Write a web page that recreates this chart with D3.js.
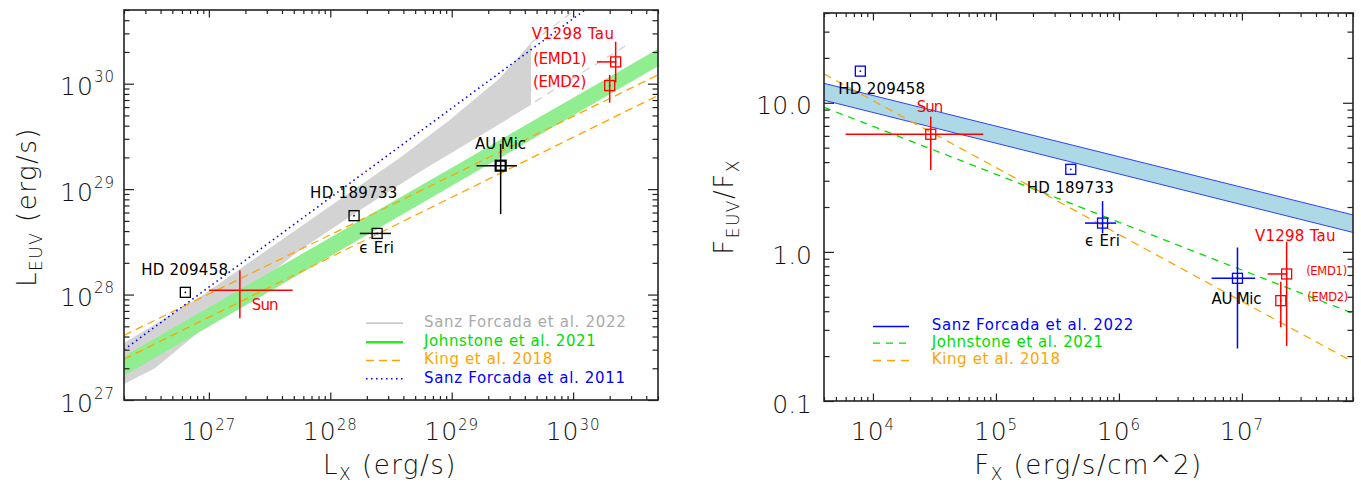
<!DOCTYPE html>
<html>
<head>
<meta charset="utf-8">
<script src="https://cdn.jsdelivr.net/npm/d3@7"></script>
<style>
  body { margin: 0; background: #fff; }
  text { font-family: "DejaVu Sans", sans-serif; }
  text.big { font-weight: 200; }
</style>
</head>
<body>
<div id="chart"></div>
<script>
// ---- values ----
const starNames = ["HD 209458", "Sun", "HD 189733", "\u03f5 Eri", "AU Mic", "(EMD1)", "(EMD2)"];

// left panel: L_EUV against L_X (erg/s)
const lxValues   = [6.4e26, 1.8e27, 1.57e28, 2.43e28, 2.53e29, 2.24e30, 2.0e30];
const leuvValues = [1.05e28, 1.1e28, 5.6e28, 3.8e28, 1.67e29, 1.61e30, 9.6e29];
const lxErr      = [null, [1.0e27, 4.9e27], null, [1.75e28, 3.16e28], [1.6e29, 3.45e29], [1.57e30, 2.24e30], null];
const leuvErr    = [null, [5.96e27, 1.69e28], null, null, [5.8e28, 2.68e29], [1.03e30, 2.5e30], [6.6e29, 1.21e30]];

// right panel: F_EUV/F_X against F_X (erg/s/cm^2)
const fxValues    = [7.9e3, 2.95e4, 4.06e5, 7.36e5, 9.2e6, 2.31e7, 2.07e7];
const ratioValues = [16.3, 6.15, 3.58, 1.56, 0.665, 0.711, 0.471];
const fxErr       = [null, [6.0e3, 7.9e4], null, [5.3e5, 9.5e5], [5.67e6, 1.28e7], [1.62e7, 2.31e7], null];
const ratioErr    = [null, [3.54, 8.07], null, [1.33, 2.19], [0.225, 1.07], [0.234, 1.17], [0.312, 0.63]];

// relations, left panel
const sanz2022UpperL = [[2.0e26, 3.48e27], [8.45e26, 9.5e27], [5.64e27, 4.38e28], [3.75e28, 1.98e29], [9.68e28, 4.54e29], [2.5e29, 1.135e30], [4.5e29, 2.44e30]];
const sanz2022LowerL = [[2.0e26, 1.42e27], [3.6e26, 2.0e27], [2.18e27, 1.11e28], [5.64e27, 2.65e28], [1.76e28, 6.35e28], [5.48e28, 1.46e29], [1.71e29, 3.2e29], [4.5e29, 6.3e29]];
const sanz2022ExtraL = [[[4.5e29, 2.44e30], [1.04e30, 5e30]], [[4.86e29, 6.76e29], [2.94e30, 2.42e30]]];
const johnstoneUpperL = [[2e26, 2.6e27], [5e30, 2.13e30]];
const johnstoneLowerL = [[2e26, 1.7e27], [5e30, 1.46e30]];
const king2018L = [[[2e26, 4.1e27], [5e30, 1.21e30]], [[2e26, 2.44e27], [5e30, 7.74e29]]];
const sanz2011L = [[2e26, 3.0e27], [1.25e30, 5e30]];

// relations, right panel
const sanz2022UpperR = [[4e3, 13.5], [8e7, 1.77]];
const sanz2022LowerR = [[4e3, 10.4], [8e7, 1.35]];
const johnstoneR = [[4e3, 9.33], [8e7, 0.387]];
const king2018R = [[4e3, 15.6], [8e7, 0.183]];

const legendLeft = ["Sanz Forcada et al. 2022", "Johnstone et al. 2021", "King et al. 2018", "Sanz Forcada et al. 2011"];
const legendRight = ["Sanz Forcada et al. 2022", "Johnstone et al. 2021", "King et al. 2018"];

// ---- drawing ----
const W = 1361, H = 485;
const svg = d3.select("#chart").append("svg")
    .attr("width", W).attr("height", H);

const boxL = { x0: 124, x1: 658, y0: 10, y1: 400 };
const boxR = { x0: 824, x1: 1353, y0: 13, y1: 401 };

const xL = d3.scaleLog().domain([2e26, 5e30]).range([boxL.x0, boxL.x1]);
const yL = d3.scaleLog().domain([1e27, 5e30]).range([boxL.y1, boxL.y0]);
const xR = d3.scaleLog().domain([4e3, 8e7]).range([boxR.x0, boxR.x1]);
const yR = d3.scaleLog().domain([0.1, 40]).range([boxR.y1, boxR.y0]);

const defs = svg.append("defs");
[["clipL", boxL], ["clipR", boxR]].forEach(([id, b]) => {
  defs.append("clipPath").attr("id", id).append("rect")
      .attr("x", b.x0).attr("y", b.y0)
      .attr("width", b.x1 - b.x0).attr("height", b.y1 - b.y0);
});

const colors = { red: "#ff0000", blue: "#0000ff", black: "#000", green: "#90ee90",
                 greenLine: "#00dd00", orange: "#ffa500", lightblue: "#add8e6" };

function lineGen(x, y) {
  return d3.line().x(d => x(d[0])).y(d => y(d[1]));
}

// ---------- left panel ----------
const gL = svg.append("g").attr("clip-path", "url(#clipL)");
const lnL = lineGen(xL, yL);

// grey band (Sanz Forcada 2022)
gL.append("path")
    .attr("d", lnL(sanz2022UpperL.concat(sanz2022LowerL.slice().reverse())) + "Z")
    .attr("fill", "#d3d3d3");
sanz2022ExtraL.forEach(seg => {
  gL.append("path").attr("d", lnL(seg))
      .attr("fill", "none").attr("stroke", "#d0d0d0").attr("stroke-width", 1.2)
      .attr("stroke-dasharray", "8,6");
});

// green band (Johnstone 2021)
gL.append("path")
    .attr("d", lnL(johnstoneUpperL.concat(johnstoneLowerL.slice().reverse())) + "Z")
    .attr("fill", colors.green);

// King 2018 dashed
king2018L.forEach(seg => {
  gL.append("path").attr("d", lnL(seg))
      .attr("fill", "none").attr("stroke", colors.orange).attr("stroke-width", 1.3)
      .attr("stroke-dasharray", "8,5");
});

// Sanz Forcada 2011 dotted
gL.append("path").attr("d", lnL(sanz2011L))
    .attr("fill", "none").attr("stroke", colors.blue).attr("stroke-width", 1.6)
    .attr("stroke-dasharray", "1.5,3.5");

// ---------- right panel ----------
const gR = svg.append("g").attr("clip-path", "url(#clipR)");
const lnR = lineGen(xR, yR);

gR.append("path")
    .attr("d", lnR(sanz2022UpperR.concat(sanz2022LowerR.slice().reverse())) + "Z")
    .attr("fill", colors.lightblue);
[sanz2022UpperR, sanz2022LowerR].forEach(seg => {
  gR.append("path").attr("d", lnR(seg))
      .attr("fill", "none").attr("stroke", "#3040ff").attr("stroke-width", 1);
});
gR.append("path").attr("d", lnR(johnstoneR))
    .attr("fill", "none").attr("stroke", colors.greenLine).attr("stroke-width", 1.3)
    .attr("stroke-dasharray", "7,6");
gR.append("path").attr("d", lnR(king2018R))
    .attr("fill", "none").attr("stroke", colors.orange).attr("stroke-width", 1.3)
    .attr("stroke-dasharray", "8,6");

// ---------- data points ----------
function drawPoints(g, x, y, xs, ys, xe, ye, colorOf, skipSquare, thick) {
  xs.forEach((xv, i) => {
    const cx = x(xv), cy = y(ys[i]);
    const col = colorOf(i);
    if (xe[i]) {
      g.append("line").attr("x1", x(xe[i][0])).attr("x2", x(xe[i][1]))
          .attr("y1", cy).attr("y2", cy).attr("stroke", col).attr("stroke-width", 1.5);
    }
    if (ye[i]) {
      g.append("line").attr("x1", cx).attr("x2", cx)
          .attr("y1", y(ye[i][0])).attr("y2", y(ye[i][1])).attr("stroke", col).attr("stroke-width", 1.5);
    }
    if (skipSquare(i)) return;
    g.append("rect").attr("x", cx - 5).attr("y", cy - 5).attr("width", 10).attr("height", 10)
        .attr("fill", "none").attr("stroke", col).attr("stroke-width", thick(i) ? 2.2 : 1.3);
    g.append("circle").attr("cx", cx).attr("cy", cy).attr("r", 0.9).attr("fill", col);
  });
}

const isRed = i => starNames[i] === "Sun" || starNames[i].startsWith("(EMD");
drawPoints(gL, xL, yL, lxValues, leuvValues, lxErr, leuvErr,
    i => isRed(i) ? colors.red : colors.black,
    i => starNames[i] === "Sun",
    i => starNames[i] === "AU Mic");
drawPoints(gR, xR, yR, fxValues, ratioValues, fxErr, ratioErr,
    i => isRed(i) ? colors.red : colors.blue,
    () => false,
    () => false);

// ---------- star labels (offsets in px from the point) ----------
// [dx, dy, length, size]
const labelOffL = [[-44, -17, 86.6, 15], [12, 20, 26.6, 15], [-44, -18, 87.3, 15], [-17.8, 20, 34.7, 15],
                   [-25.6, -17, 51, 15], [-82.4, 2, 53.4, 15], [-76.7, 1.8, 53.4, 15]];
const labelOffR = [[-22, 23, 86.7, 15], [-14, -22.5, 26.6, 15], [-44, 24, 87, 15], [-17.6, 22.7, 35, 15],
                   [-26, 25.7, 50, 15], [19.5, 1.5, 41, 11.5], [26.5, 0.8, 41, 11.5]];

function drawLabels(x, y, xs, ys, offs, colorOf, tau) {
  starNames.forEach((name, i) => {
    const o = offs[i];
    svg.append("text")
        .attr("x", x(xs[i]) + o[0]).attr("y", y(ys[i]) + o[1])
        .attr("font-size", o[3]).attr("textLength", o[2]).attr("lengthAdjust", "spacing")
        .attr("fill", colorOf(i)).text(name);
  });
  // V1298 Tau label sits over the (EMD1) point
  const k = starNames.indexOf("(EMD1)");
  svg.append("text")
      .attr("x", x(xs[k]) + tau[0]).attr("y", y(ys[k]) + tau[1])
      .attr("font-size", 15).attr("textLength", tau[2]).attr("lengthAdjust", "spacing")
      .attr("fill", colors.red).text("V1298 Tau");
}
drawLabels(xL, yL, lxValues, leuvValues, labelOffL, i => isRed(i) ? colors.red : colors.black, [-84, -23, 82.3]);
drawLabels(xR, yR, fxValues, ratioValues, labelOffR, i => isRed(i) ? colors.red : colors.black, [-31.7, -33, 80.6]);

// ---------- legends ----------
function drawLegend(x0, x1, tx, rows, items) {
  items.forEach((it, i) => {
    svg.append("line").attr("x1", x0).attr("x2", x1)
        .attr("y1", rows[i] + 1.5).attr("y2", rows[i] + 1.5)
        .attr("stroke", it.stroke).attr("stroke-width", it.width)
        .attr("stroke-dasharray", it.dash);
    svg.append("text").attr("x", tx).attr("y", rows[i] + 5.3)
        .attr("font-size", 15).attr("textLength", it.len).attr("lengthAdjust", "spacing")
        .attr("fill", it.color).text(it.name);
  });
}
drawLegend(366, 403, 424, [321.7, 340.7, 359, 377.3], [
  { name: legendLeft[0], stroke: "#b8b8b8", width: 1.2, dash: null, color: "#aaaaaa", len: 201.7 },
  { name: legendLeft[1], stroke: "#22ee22", width: 2.5, dash: null, color: "#00dd00", len: 171.7 },
  { name: legendLeft[2], stroke: colors.orange, width: 1.3, dash: "8,5", color: colors.orange, len: 128.3 },
  { name: legendLeft[3], stroke: colors.blue, width: 1.6, dash: "1.5,3.5", color: colors.blue, len: 201 }
]);
drawLegend(873, 909, 931.7, [325, 341.7, 359], [
  { name: legendRight[0], stroke: colors.blue, width: 1.3, dash: null, color: colors.blue, len: 201.7 },
  { name: legendRight[1], stroke: colors.greenLine, width: 1.3, dash: "7,6", color: "#00dd00", len: 171.3 },
  { name: legendRight[2], stroke: colors.orange, width: 1.3, dash: "8,6", color: colors.orange, len: 128.3 }
]);

// ---------- axes: IDL-like inward ticks on all four sides ----------
const isMajor = v => Math.abs(Math.log10(v) - Math.round(Math.log10(v))) < 1e-9;

function drawAxes(b, x, y) {
  const xt = x.ticks(), yt = y.ticks();
  const xMaj = xt.filter(isMajor), xMin = xt.filter(v => !isMajor(v));
  const yMaj = yt.filter(isMajor), yMin = yt.filter(v => !isMajor(v));
  const add = (axis, tx, ty, vals, len) => svg.append("g")
      .attr("transform", `translate(${tx},${ty})`)
      .call(axis.tickValues(vals).tickSize(-len).tickSizeOuter(0).tickFormat(""))
      .call(g => g.select(".domain").remove())
      .call(g => g.selectAll("line").attr("stroke", "#222").attr("stroke-width", 1.2));
  add(d3.axisBottom(x), 0, b.y1, xMaj, 7.5);
  add(d3.axisBottom(x), 0, b.y1, xMin, 4);
  add(d3.axisTop(x), 0, b.y0, xMaj, 7.5);
  add(d3.axisTop(x), 0, b.y0, xMin, 4);
  add(d3.axisLeft(y), b.x0, 0, yMaj, 10);
  add(d3.axisLeft(y), b.x0, 0, yMin, 5.5);
  add(d3.axisRight(y), b.x1, 0, yMaj, 10);
  add(d3.axisRight(y), b.x1, 0, yMin, 5.5);
  svg.append("rect").attr("x", b.x0).attr("y", b.y0)
      .attr("width", b.x1 - b.x0).attr("height", b.y1 - b.y0)
      .attr("fill", "none").attr("stroke", "#222").attr("stroke-width", 1.6);
  return { xMaj, yMaj };
}

function powerLabel(px, py, v, anchor, supDy) {
  const t = svg.append("text").attr("class", "big").attr("x", px).attr("y", py)
      .attr("text-anchor", anchor).attr("font-size", 25).attr("fill", "#111")
      .attr("letter-spacing", 1);
  t.append("tspan").text("10");
  t.append("tspan").attr("dy", supDy).attr("font-size", 15).text(Math.round(Math.log10(v)));
}

const tL = drawAxes(boxL, xL, yL);
tL.xMaj.forEach(v => powerLabel(xL(v), 440, v, "middle", -10));
tL.yMaj.forEach(v => powerLabel(boxL.x0 - 9, yL(v) + 11.7, v, "end", -13));

const tR = drawAxes(boxR, xR, yR);
tR.xMaj.forEach(v => powerLabel(xR(v), 440, v, "middle", -10));
tR.yMaj.forEach(v => {
  svg.append("text").attr("class", "big").attr("x", boxR.x0 - 12).attr("y", yR(v) + 11.7)
      .attr("text-anchor", "end").attr("font-size", 25).attr("fill", "#111")
      .text(d3.format(".1f")(v));
});

// ---------- axis titles: parts are [text, isSubscript] ----------
function title(px, py, parts, rotate) {
  const t = svg.append("text").attr("class", "big")
      .attr("transform", `translate(${px},${py})` + (rotate ? " rotate(-90)" : ""))
      .attr("text-anchor", "middle").attr("font-size", 26).attr("fill", "#111")
      .attr("letter-spacing", 1.5);
  let shifted = false;
  parts.forEach(([s, sub]) => {
    const sp = t.append("tspan").text(s);
    if (sub && !shifted) { sp.attr("dy", 6).attr("font-size", 17); shifted = true; }
    else if (sub) { sp.attr("font-size", 17); }
    else if (shifted) { sp.attr("dy", -6); shifted = false; }
  });
}
title(390, 474, [["L", false], ["X", true], [" (erg/s)", false]], false);
title(36, 207, [["L", false], ["EUV", true], [" (erg/s)", false]], true);
title(1088.5, 474, [["F", false], ["X", true], [" (erg/s/cm^2)", false]], false);
title(733, 207, [["F", false], ["EUV", true], ["/F", false], ["X", true]], true);
</script>
</body>
</html>
